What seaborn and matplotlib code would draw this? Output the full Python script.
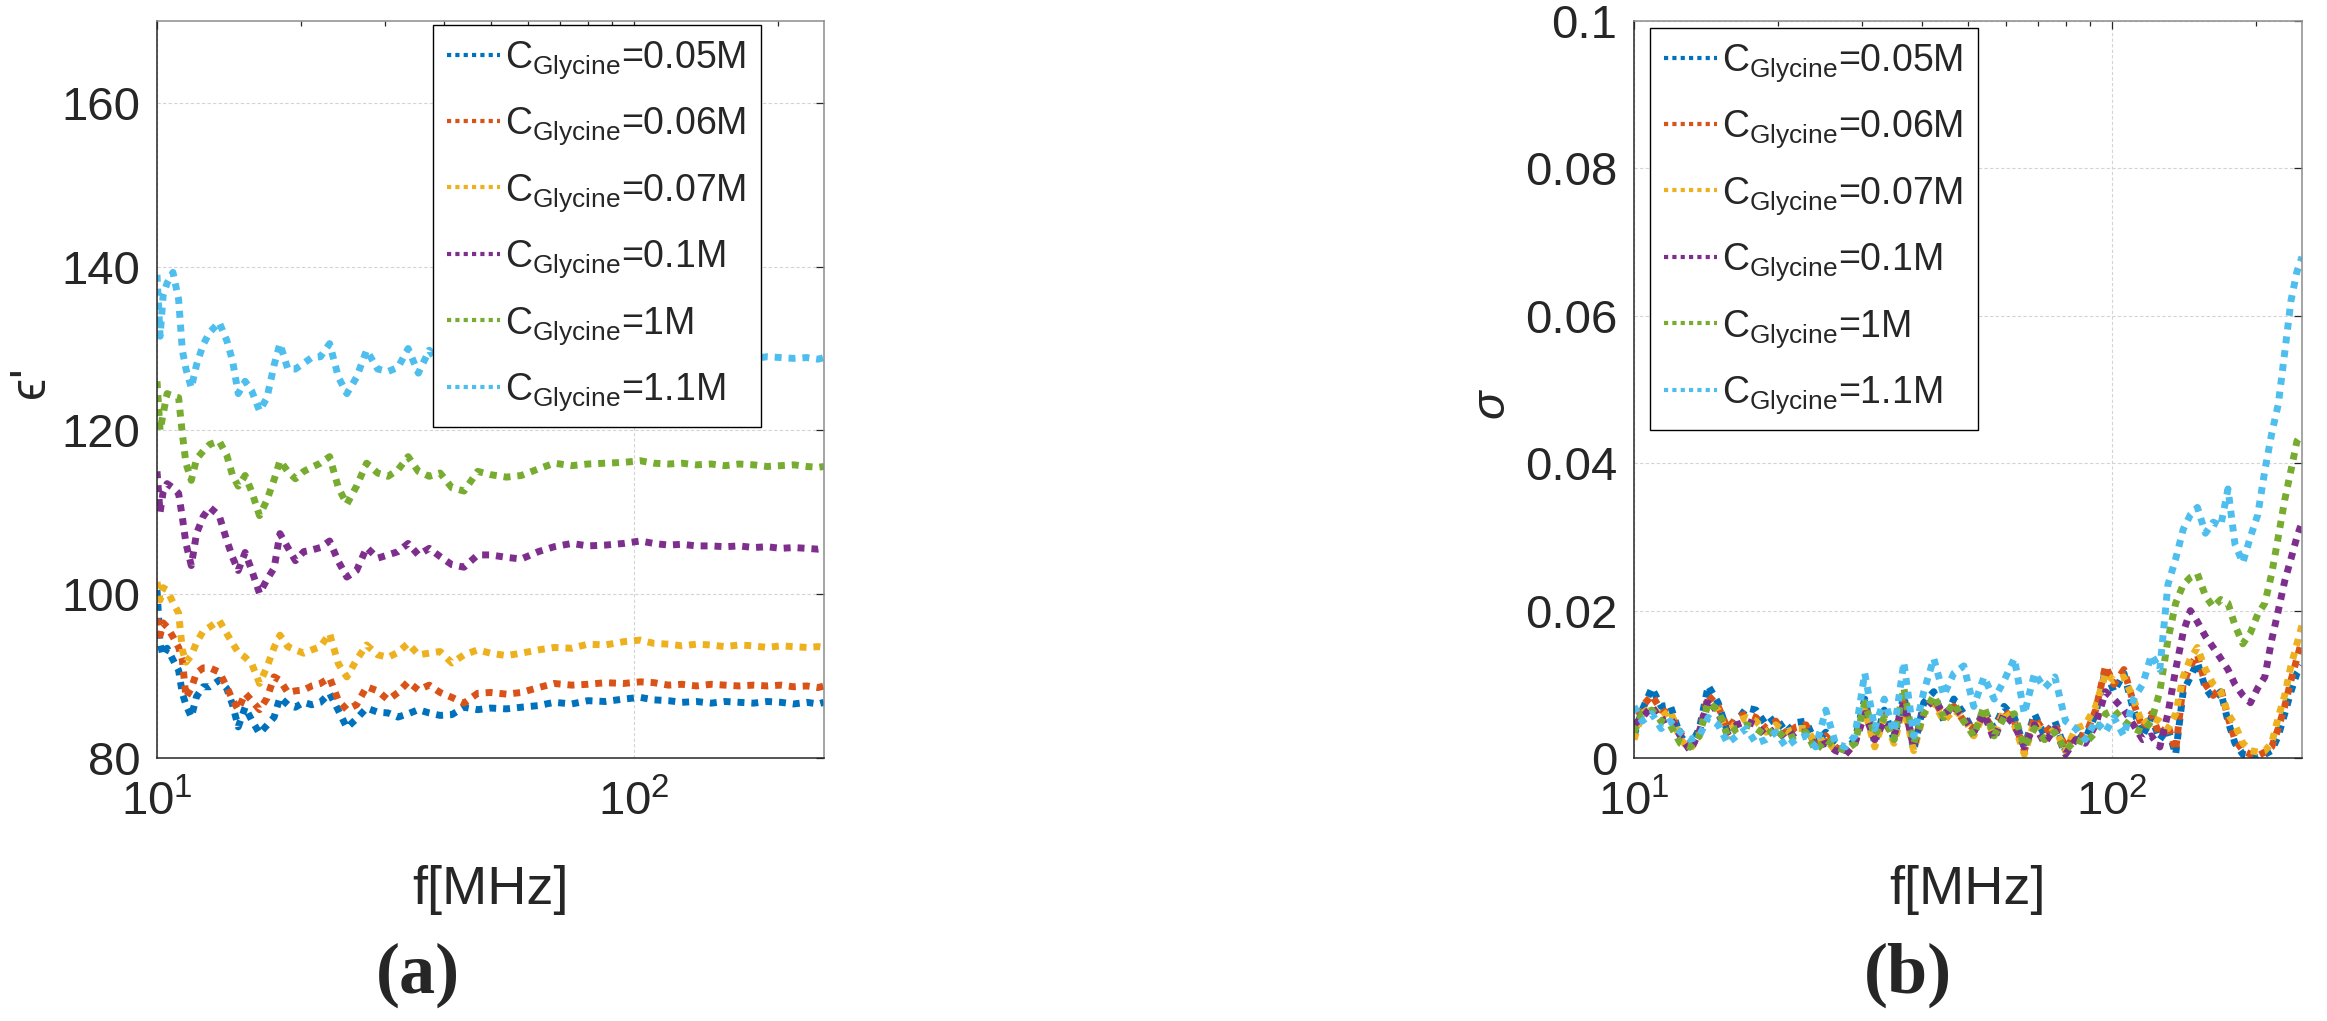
import matplotlib
matplotlib.use("Agg")
import matplotlib.pyplot as plt
import numpy as np
import pandas as pd
import seaborn as sns
from matplotlib.ticker import FixedLocator, FuncFormatter, LogLocator, NullFormatter

# ---------------------------------------------------------------------
# data
# ---------------------------------------------------------------------
conc_labels = ["0.05M", "0.06M", "0.07M", "0.1M", "1M", "1.1M"]
colors = ["#0072BD", "#D95319", "#EDB120", "#7E2F8E", "#77AC30", "#4DBEEE"]

# (a) permittivity, f in MHz
freq_a = [10.0, 10.15, 10.3, 10.5, 10.8, 11.1, 11.3, 11.5, 11.8, 12.1,
          12.5, 12.9, 13.5, 14.0, 14.4, 14.8, 15.3, 15.8, 16.4, 17.0,
          17.6, 18.1, 18.8, 19.5, 20.3, 21.1, 22.0, 23.0, 24.0, 25.0,
          26.2, 27.5, 29.0, 30.5, 32.0, 33.6, 35.3, 37.2, 39.2, 41.5,
          44.0, 47.0, 50.0, 54.0, 58.0, 63.0, 68.0, 74.0, 80.0, 87.0,
          95.0, 103, 110, 118, 126, 135, 145, 155, 166, 178,
          190, 203, 216, 230, 243, 250]

eps_005 = [100.5, 94.0, 92.5, 93.4, 92.0, 90.7, 87.9, 86.5, 85.0, 87.5,
           88.7, 88.7, 89.5, 88.5, 86.5, 83.8, 86.2, 84.6, 83.0, 84.0,
           85.0, 87.4, 86.5, 86.2, 86.8, 86.5, 86.8, 87.9, 85.8, 83.7,
           84.8, 86.1, 85.6, 85.5, 85.0, 85.4, 85.9, 85.5, 85.2, 85.3,
           86.2, 85.9, 86.1, 86.0, 86.2, 86.4, 86.8, 86.6, 87.0, 86.9,
           87.2, 87.4, 87.1, 87.0, 86.8, 86.9, 86.7, 86.9, 86.8, 86.7,
           86.9, 86.8, 86.6, 86.8, 86.6, 86.8]
eps_006 = [97.0, 95.0, 96.5, 96.0, 94.8, 93.5, 92.0, 87.4, 88.5, 90.4,
           91.0, 91.0, 90.5, 88.7, 87.1, 85.9, 87.9, 87.0, 85.9, 87.3,
           89.9, 89.5, 88.0, 88.2, 88.3, 88.8, 89.1, 89.8, 87.0, 85.9,
           86.5, 88.7, 88.2, 87.1, 88.0, 89.3, 88.3, 88.9, 88.0, 87.4,
           86.7, 87.9, 88.0, 87.8, 88.0, 88.6, 89.1, 88.9, 89.0, 89.2,
           89.1, 89.3, 89.2, 88.9, 89.0, 88.8, 89.0, 88.9, 88.8, 88.9,
           88.8, 88.9, 88.7, 88.8, 88.6, 88.8]
eps_007 = [101.5, 99.3, 100.8, 100.5, 99.0, 97.7, 93.2, 91.7, 92.5, 94.1,
           95.5, 96.0, 96.8, 95.2, 94.0, 92.9, 92.3, 91.5, 89.1, 91.1,
           93.5, 95.0, 93.6, 93.2, 92.8, 93.2, 93.6, 95.2, 91.5, 89.9,
           92.0, 93.8, 92.6, 92.3, 92.9, 94.0, 92.6, 92.8, 93.0, 91.6,
           92.6, 93.2, 92.8, 92.5, 92.8, 93.2, 93.5, 93.4, 93.9, 93.8,
           94.2, 94.4, 94.0, 93.9, 93.7, 93.9, 93.8, 93.6, 93.8, 93.7,
           93.5, 93.7, 93.6, 93.5, 93.6, 93.5]
eps_01 = [115.0, 110.0, 112.5, 113.5, 113.0, 112.3, 109.4, 106.2, 103.5, 107.4,
          109.5, 110.6, 109.6, 106.6, 104.5, 102.9, 105.1, 102.9, 100.1, 101.8,
          103.2, 107.4, 105.7, 104.1, 105.2, 105.4, 105.7, 106.5, 104.0, 102.1,
          102.9, 105.7, 104.4, 104.8, 105.2, 106.2, 104.8, 105.6, 104.6, 103.6,
          103.3, 104.8, 104.8, 104.5, 104.3, 105.2, 105.8, 106.2, 105.9, 106.0,
          106.2, 106.5, 106.2, 106.0, 106.1, 105.9, 105.9, 105.8, 105.9, 105.7,
          105.8, 105.6, 105.7, 105.6, 105.5, 105.6]
eps_1 = [126.0, 120.0, 122.0, 124.5, 124.2, 124.0, 119.6, 116.0, 113.9, 116.5,
         117.5, 118.3, 118.7, 117.0, 114.5, 113.2, 114.5, 112.5, 109.6, 111.5,
         114.0, 116.3, 115.0, 114.1, 115.0, 115.5, 116.0, 116.8, 113.0, 111.0,
         113.2, 116.0, 114.8, 114.4, 115.2, 116.8, 115.0, 114.4, 114.8, 113.0,
         112.6, 115.0, 114.6, 114.3, 114.5, 115.3, 116.0, 115.7, 115.9, 116.0,
         116.1, 116.3, 116.0, 115.9, 116.0, 115.8, 115.9, 115.7, 115.9, 115.8,
         115.6, 115.7, 115.8, 115.6, 115.5, 115.6]
eps_11 = [139.0, 131.5, 136.5, 138.0, 139.3, 136.0, 129.8, 127.5, 125.2, 128.0,
          130.5, 132.0, 133.2, 131.0, 128.5, 124.5, 126.0, 124.8, 122.4, 124.0,
          128.0, 130.6, 127.5, 127.5, 128.2, 128.9, 129.0, 130.6, 126.5, 124.5,
          126.5, 129.8, 127.5, 127.2, 127.7, 130.0, 127.0, 129.8, 128.0, 127.3,
          127.0, 128.4, 128.2, 127.9, 128.1, 128.6, 129.0, 128.8, 129.1, 129.0,
          129.3, 129.2, 129.0, 129.1, 128.9, 129.0, 128.8, 129.0, 128.9, 128.8,
          129.0, 128.9, 128.8, 128.9, 128.7, 128.9]

# (b) conductivity, values in units of 1e-3
freq_b = [10.0, 10.4, 10.9, 11.4, 11.9, 12.5, 13.1, 13.7, 14.3, 15.0,
          15.7, 16.4, 17.2, 18.0, 18.9, 19.8, 20.8, 21.8, 22.9, 24.0,
          25.2, 26.4, 27.7, 29.0, 30.4, 31.9, 33.4, 35.0, 36.7, 38.5,
          40.4, 42.4, 44.5, 46.7, 49.0, 51.4, 54.0, 56.7, 59.5, 62.5,
          65.6, 68.9, 72.3, 76.0, 80.0, 84.0, 88.0, 92.5, 97.0, 101,
          106, 111, 116, 121, 126, 131, 136, 141, 146, 151,
          157, 163, 169, 175, 181, 188, 195, 202, 209, 216,
          223, 230, 237, 244, 250]

sig_005 = [3.0, 6.5, 9.5, 7.0, 7.2, 3.0, 1.5, 4.0, 9.8, 7.5,
           3.5, 5.0, 6.8, 6.5, 4.5, 5.5, 3.5, 4.8, 5.0, 2.0,
           3.5, 2.0, 1.0, 2.5, 8.0, 2.0, 6.5, 2.5, 8.5, 1.0,
           7.5, 9.0, 5.0, 8.0, 6.0, 3.5, 6.5, 4.0, 7.0, 5.5,
           1.5, 6.0, 3.0, 5.0, 1.0, 3.5, 2.5, 6.0, 12.0, 9.0,
           11.5, 6.5, 3.0, 5.5, 2.5, 4.0, 0.5, 9.0, 11.0, 13.0,
           9.5, 8.0, 9.0, 5.0, 2.0, 0.5, 0.3, 0.0, 0.5, 1.0,
           3.0, 6.0, 9.0, 11.5, 12.5]
sig_006 = [4.0, 7.0, 8.5, 6.5, 6.0, 3.5, 1.0, 3.5, 8.5, 7.0,
           4.0, 5.5, 6.0, 5.5, 4.0, 5.0, 3.0, 4.2, 4.5, 1.5,
           3.0, 1.5, 0.5, 2.0, 7.0, 2.5, 6.0, 3.0, 7.5, 1.5,
           6.5, 8.0, 5.5, 7.0, 5.0, 4.0, 6.0, 3.5, 6.5, 5.0,
           1.0, 5.5, 3.5, 4.5, 1.5, 3.0, 3.0, 6.5, 12.5, 10.0,
           12.0, 7.5, 4.0, 6.0, 3.0, 4.5, 1.0, 10.0, 12.5, 14.0,
           10.0, 8.5, 9.5, 5.5, 2.5, 1.0, 0.5, 0.3, 0.8, 1.5,
           4.0, 7.0, 10.5, 13.5, 16.0]
sig_007 = [2.5, 6.0, 7.0, 5.5, 6.5, 2.5, 1.2, 3.0, 7.5, 6.5,
           3.0, 5.0, 5.5, 5.0, 3.5, 4.5, 3.5, 4.0, 4.0, 2.0,
           2.5, 1.0, 1.5, 2.5, 6.5, 1.5, 5.5, 2.0, 7.0, 1.0,
           6.0, 7.5, 5.0, 6.5, 5.5, 3.0, 6.0, 3.0, 6.5, 4.5,
           0.5, 5.0, 2.5, 4.0, 1.0, 4.0, 4.5, 7.0, 11.5, 10.5,
           11.0, 8.0, 4.5, 5.5, 5.0, 4.0, 6.0, 11.0, 13.5, 15.0,
           12.0, 10.0, 9.0, 6.0, 4.5, 2.0, 1.0, 0.8, 1.0, 2.0,
           5.5, 8.5, 12.5, 15.5, 18.0]
sig_01 = [4.5, 5.5, 7.0, 5.0, 5.5, 3.0, 1.0, 3.5, 8.0, 6.0,
          3.5, 4.5, 5.0, 4.5, 3.0, 4.0, 2.5, 3.5, 3.5, 1.5,
          2.0, 1.0, 0.5, 2.0, 6.0, 2.5, 5.0, 3.0, 7.5, 1.5,
          6.5, 8.0, 6.0, 7.0, 5.5, 3.5, 6.0, 2.5, 6.0, 4.5,
          1.5, 4.5, 2.0, 4.0, 0.5, 2.5, 2.0, 4.5, 9.0, 8.0,
          6.5, 4.5, 2.5, 3.0, 1.5, 6.0, 12.0, 17.0, 20.0, 18.5,
          16.5, 15.0, 13.5, 12.0, 10.0, 8.5, 7.5, 9.5, 11.0, 16.0,
          20.0, 24.0, 27.0, 30.0, 32.0]
sig_1 = [3.5, 6.0, 6.5, 5.0, 4.5, 2.0, 1.5, 3.0, 7.5, 6.5,
         3.0, 4.0, 4.5, 4.0, 3.0, 4.0, 2.5, 3.0, 3.5, 1.0,
         2.5, 1.5, 1.0, 2.0, 7.5, 3.0, 5.5, 2.5, 9.5, 2.0,
         6.0, 8.5, 5.5, 7.5, 5.0, 3.0, 7.0, 3.0, 5.5, 6.0,
         1.5, 4.0, 2.5, 3.5, 1.0, 2.5, 2.0, 3.5, 6.0, 6.5,
         5.0, 4.0, 3.5, 5.0, 9.0, 16.0, 21.0, 23.5, 24.5, 25.0,
         22.0, 20.5, 21.5, 21.0, 18.0, 15.5, 17.0, 19.5, 21.0, 25.0,
         30.0, 35.0, 39.0, 43.0, 44.0]
sig_11 = [7.0, 5.0, 6.0, 4.0, 5.0, 3.5, 2.5, 3.0, 5.5, 4.5,
          2.0, 3.0, 4.0, 2.0, 2.5, 3.5, 1.5, 2.5, 3.0, 1.5,
          6.5, 2.0, 1.5, 3.0, 11.5, 4.0, 8.0, 3.5, 13.0, 3.0,
          9.0, 13.5, 8.5, 11.5, 12.5, 7.0, 11.0, 8.0, 10.5, 13.5,
          6.0, 11.5, 9.5, 11.0, 5.0, 4.0, 2.5, 5.0, 3.5, 5.5,
          3.0, 8.0, 10.0, 14.0, 12.0, 23.5, 27.0, 31.0, 33.0, 34.0,
          30.5, 32.0, 31.5, 36.5, 29.0, 26.5, 30.0, 33.0, 39.0, 44.0,
          48.0, 55.0, 62.0, 66.0, 68.0]

eps_series = [eps_005, eps_006, eps_007, eps_01, eps_1, eps_11]
sig_series = [sig_005, sig_006, sig_007, sig_01, sig_1, sig_11]

df_a = pd.DataFrame({
    "f": np.tile(freq_a, len(conc_labels)),
    "eps": np.concatenate(eps_series),
    "conc": np.repeat(conc_labels, len(freq_a)),
})
df_b = pd.DataFrame({
    "f": np.tile(freq_b, len(conc_labels)),
    "sigma": np.concatenate(sig_series) / 1000.0,
    "conc": np.repeat(conc_labels, len(freq_b)),
})

# ---------------------------------------------------------------------
# style
# ---------------------------------------------------------------------
sns.set_style("white")
plt.rcParams["font.family"] = ["Liberation Sans", "DejaVu Sans"]
plt.rcParams["mathtext.fontset"] = "custom"
plt.rcParams["mathtext.rm"] = "Liberation Sans"
plt.rcParams["mathtext.it"] = "Liberation Sans:italic"
plt.rcParams["mathtext.bf"] = "Liberation Sans:bold"

W, H = 2327, 1021
fig = plt.figure(figsize=(W / 100, H / 100), dpi=100)
ax_a = fig.add_axes([157 / W, 1 - 758 / H, 667 / W, 737 / H])
ax_b = fig.add_axes([1634 / W, 1 - 758 / H, 668 / W, 737 / H])

dot = (0, (1, 1))
leg_labels = [r"C$_{\mathrm{Glycine}}$=" + c for c in conc_labels]

sns.lineplot(data=df_a, x="f", y="eps", hue="conc", hue_order=conc_labels,
             palette=colors, estimator=None, sort=False, legend=False,
             linewidth=5, linestyle=dot, ax=ax_a)
sns.lineplot(data=df_b, x="f", y="sigma", hue="conc", hue_order=conc_labels,
             palette=colors, estimator=None, sort=False, legend=False,
             linewidth=5, linestyle=dot, ax=ax_b)


def style_axes(ax):
    ax.set_xscale("log")
    ax.set_xlim(10, 250)
    ax.xaxis.set_major_locator(LogLocator(base=10, numticks=10))
    ax.xaxis.set_minor_locator(LogLocator(base=10, subs=np.arange(2, 10), numticks=20))
    ax.xaxis.set_minor_formatter(NullFormatter())
    ax.grid(True, which="major", color="#d4d4d4", linewidth=0.8, linestyle=(0, (3, 2)))
    ax.tick_params(which="both", direction="in", top=True, right=True,
                   labelsize=34, width=0.9, color="#262626")
    ax.tick_params(which="major", length=6)
    ax.tick_params(which="minor", length=3.5)
    ax.tick_params(axis="x", which="major", pad=16)
    ax.tick_params(axis="y", which="major", pad=12)
    for side in ["left", "bottom"]:
        ax.spines[side].set_color("#262626")
        ax.spines[side].set_linewidth(1.1)
    for side in ["top", "right"]:
        ax.spines[side].set_color("#8c8c8c")
        ax.spines[side].set_linewidth(1.1)
    ax.set_xlabel("f[MHz]", fontsize=39)
    ax.xaxis.set_label_coords(0.5, -0.145)


style_axes(ax_a)
style_axes(ax_b)

ax_a.set_ylim(80, 170)
ax_a.yaxis.set_major_locator(FixedLocator([80, 100, 120, 140, 160]))
ax_a.set_ylabel("\u03f5'", fontsize=36)
ax_a.yaxis.set_label_coords(-0.155, 0.51)

ax_b.set_ylim(0, 0.1)
ax_b.yaxis.set_major_locator(FixedLocator([0, 0.02, 0.04, 0.06, 0.08, 0.1]))
ax_b.yaxis.set_major_formatter(FuncFormatter(lambda v, p: f"{v:g}"))
ax_b.set_ylabel("\u03c3", fontsize=34, style="italic")
ax_b.yaxis.set_label_coords(-0.18, 0.48)

for ax, anchor in [(ax_a, (433 / W, 1 - 25 / H)), (ax_b, (1650 / W, 1 - 28 / H))]:
    leg = ax.legend(ax.get_lines()[:len(conc_labels)], leg_labels,
                    loc="upper left", bbox_to_anchor=anchor,
                    bbox_transform=fig.transFigure, borderaxespad=0,
                    fontsize=27, frameon=True, fancybox=False, framealpha=1,
                    edgecolor="black", handlelength=1.4, handletextpad=0.15,
                    labelspacing=0.66, borderpad=0.38)
    leg.get_frame().set_linewidth(1.0)
    for ln in leg.get_lines():
        ln.set_linewidth(3.0)

fig.text(418 / W, 1 - 975 / H, "(a)", ha="center", va="center",
         fontsize=52, fontweight="bold", family="Liberation Serif")
fig.text(1908 / W, 1 - 975 / H, "(b)", ha="center", va="center",
         fontsize=52, fontweight="bold", family="Liberation Serif")

fig.savefig("out.png", dpi=100)
